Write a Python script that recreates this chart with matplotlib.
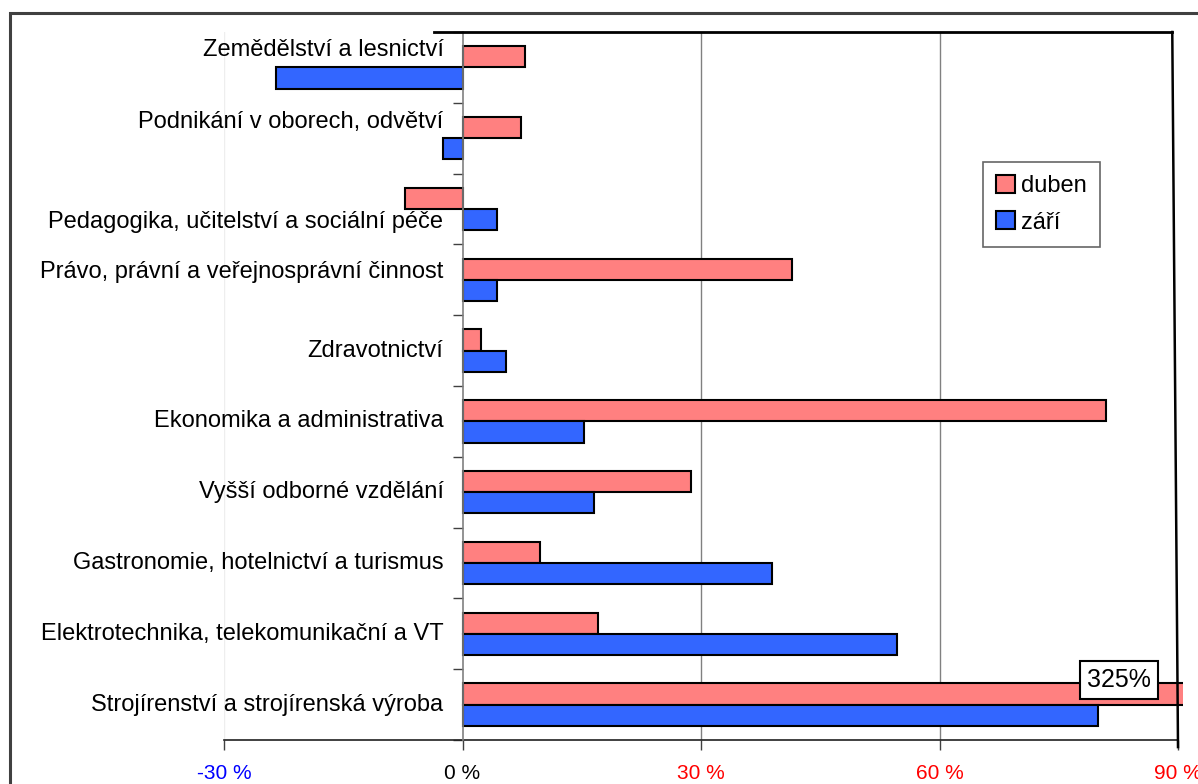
import matplotlib
matplotlib.use("Agg")
import matplotlib.pyplot as plt
from matplotlib.patches import Rectangle
from matplotlib.transforms import Bbox, TransformedBbox

plt.rcParams['font.family'] = ['Liberation Sans', 'DejaVu Sans']

categories = [
    "Zemědělství a lesnictví",
    "Podnikání v oborech, odvětví",
    "Pedagogika, učitelství a sociální péče",
    "Právo, právní a veřejnosprávní činnost",
    "Zdravotnictví",
    "Ekonomika a administrativa",
    "Vyšší odborné vzdělání",
    "Gastronomie, hotelnictví a turismus",
    "Elektrotechnika, telekomunikační a VT",
    "Strojírenství a strojírenská výroba",
]
duben = [7.8, 7.4, -7.2, 41.4, 2.3, 80.9, 28.8, 9.7, 17.0, 325.0]
zari = [-23.4, -2.5, 4.3, 4.3, 5.5, 15.3, 16.6, 38.9, 54.7, 79.9]
xticks = [-30, 0, 30, 60, 90]
xtick_labels = ["-30 %", "0 %", "30 %", "60 %", "90 %"]
xtick_colors = ["#0000FF", "black", "#FF0000", "#FF0000", "#FF0000"]
series_names = ["duben", "září"]
overflow_label = "325%"

W, H = 1198, 784
fig = plt.figure(figsize=(W / 100, H / 100), dpi=100)

# outer chart frame
fig.patches.append(Rectangle((10 / W, -0.1), 1.2, 1 - 13 / H + 0.1, transform=fig.transFigure,
                             fill=False, edgecolor="#404040", linewidth=2.2, zorder=0))

ax = fig.add_axes([224 / W, 1 - 740 / H, (1178 - 224) / W, (740 - 32) / H])
ax.set_xlim(-30, 90)
n = len(categories)
ax.set_ylim(n - 0.5, -0.5)

# grid lines
ax.axvline(-30, color="#eeeeee", lw=1, zorder=0)
for g in (30, 60):
    ax.axvline(g, color="#808080", lw=1, zorder=0)

ys = list(range(n))
h = 0.3
bars1 = ax.barh([y - h / 2 for y in ys], duben, height=h, color="#FF8080",
                edgecolor="black", linewidth=1.5, zorder=3, label=series_names[0])
bars2 = ax.barh([y + h / 2 for y in ys], zari, height=h, color="#3366FF",
                edgecolor="black", linewidth=1.5, zorder=3, label=series_names[1])
clipbox = TransformedBbox(Bbox([[-0.5, -0.02], [1.005, 1.02]]), ax.transAxes)
for b in list(bars1) + list(bars2):
    b.set_clip_box(clipbox)

# spines
for s in ("top", "right"):
    ax.spines[s].set_visible(False)
ax.spines["left"].set_position(("data", 0))
ax.spines["left"].set_color("#808080")
ax.spines["left"].set_linewidth(1.2)
ax.spines["left"].set_zorder(4)
ax.spines["bottom"].set_color("#202020")
ax.spines["bottom"].set_linewidth(1.2)

# top and right frame lines of plot area (as drawn in reference)
ax.plot([(434 - 224) / (1178 - 224), 0.994], [1.0, 1.0], transform=ax.transAxes,
        color="black", lw=2, clip_on=False, zorder=5)
ax.plot([0.994, 1.0], [1.0, -0.01], transform=ax.transAxes,
        color="black", lw=1.8, clip_on=False, zorder=5)

ax.set_yticks([y + 0.5 for y in range(-1, n)])
ax.set_yticklabels([])
ax.tick_params(axis="y", direction="out", length=7, color="#404040", width=1)

ax.set_xticks(xticks)
ax.set_xticklabels(xtick_labels, fontsize=15)
for lab, c in zip(ax.get_xticklabels(), xtick_colors):
    lab.set_color(c)
ax.tick_params(axis="x", direction="out", length=7, color="#404040", width=1, pad=10.5)

label_offsets = [-0.25, -0.23, 0.18, -0.11, 0, 0, 0, 0, 0, 0]
for y, name, off in zip(ys, categories, label_offsets):
    ax.text(-2.4, y + off, name, ha="right", va="center", fontsize=17, color="black", zorder=6)

leg = ax.legend(loc="upper left", bbox_to_anchor=((983 - 224) / 954, 1 - (162 - 32) / 708),
                fontsize=17, frameon=True, fancybox=False, edgecolor="#404040",
                handlelength=0.8, handleheight=0.8, handletextpad=0.25, labelspacing=0.6,
                borderpad=0.55, borderaxespad=0)
leg.get_frame().set_linewidth(1.2)

ax.text(1119, H - 680, overflow_label, transform=None, fontsize=18, ha="center", va="center",
        zorder=7,
        bbox=dict(boxstyle="square,pad=0.28", facecolor="white", edgecolor="black", linewidth=1.5))

fig.savefig("out.png", dpi=100)
